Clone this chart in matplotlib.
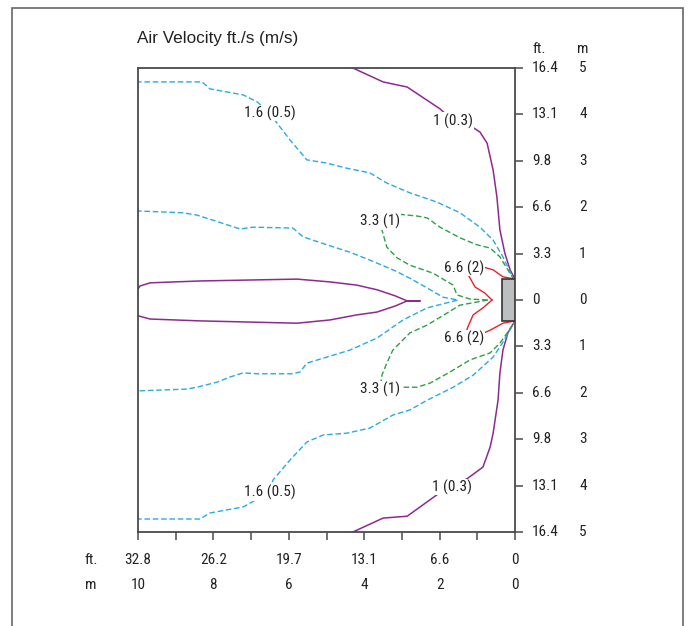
import numpy as np
import matplotlib.pyplot as plt
from matplotlib import font_manager as fm
from matplotlib.patches import Rectangle

# axis scales (distance from diffuser, m) and their ft labels
dist_m = [10, 8, 6, 4, 2, 0]
dist_ft = ['32.8', '26.2', '19.7', '13.1', '6.6', '0']
height_m = [5, 4, 3, 2, 1, 0, -1, -2, -3, -4, -5]
height_ft = ['16.4', '13.1', '9.8', '6.6', '3.3', '0', '3.3', '6.6', '9.8', '13.1', '16.4']
height_lbl = ['5', '4', '3', '2', '1', '0', '1', '2', '3', '4', '5']

# diffuser face (m)
nozzle_depth = 0.34
nozzle_half = 0.45

# 1 ft/s (0.3 m/s) isovel - outer, upper and lower
v03_up_x = [4.30, 3.50, 2.86, 1.99, 1.64, 1.25, 0.93, 0.74, 0.58, 0.48, 0.40, 0.27, 0.13, 0.0]
v03_up_y = [5.00, 4.70, 4.59, 4.12, 3.86, 3.79, 3.62, 3.38, 2.80, 2.22, 1.51, 1.01, 0.65, 0.45]
v03_lo_x = [4.30, 3.50, 2.86, 2.04, 1.67, 1.25, 0.85, 0.66, 0.58, 0.45, 0.40, 0.32, 0.19, 0.0]
v03_lo_y = [-5.00, -4.70, -4.66, -4.18, -4.03, -3.84, -3.60, -3.17, -2.87, -2.16, -1.57, -1.08, -0.71, -0.45]

# 1 ft/s lobe along the centre line (unlabelled)
lobe_x = [10.05, 9.95, 9.68, 8.36, 5.78, 4.91, 4.19, 3.66, 3.18, 2.86, 2.52,
          2.86, 3.18, 3.66, 4.19, 4.91, 5.78, 8.36, 9.68, 10.0, 10.05]
lobe_y = [0.17, 0.30, 0.37, 0.41, 0.45, 0.39, 0.32, 0.22, 0.09, -0.02, -0.02,
          -0.02, -0.13, -0.26, -0.32, -0.43, -0.50, -0.45, -0.41, -0.34, -0.25]

# 1.6 ft/s (0.5 m/s) isovel
v05_up_x = [10.05, 8.30, 8.09, 7.21, 6.84, 6.50, 6.31, 5.97, 5.52, 4.99, 4.46, 3.85, 3.40,
            2.79, 2.07, 1.46, 0.93, 0.58, 0.32, 0.05, 0.0]
v05_up_y = [4.70, 4.70, 4.55, 4.42, 4.27, 4.03, 3.81, 3.45, 3.02, 2.95, 2.84, 2.74, 2.52,
            2.31, 2.11, 1.88, 1.57, 1.29, 0.93, 0.47, 0.45]
v05_lo_x = [10.05, 8.36, 8.09, 7.21, 7.03, 6.50, 6.42, 5.97, 5.52, 5.09, 4.46, 3.85, 3.24,
            2.79, 2.33, 1.64, 1.11, 0.58, 0.32, 0.0]
v05_lo_y = [-4.72, -4.72, -4.59, -4.46, -4.38, -4.14, -3.88, -3.45, -3.06, -2.91, -2.87, -2.76, -2.48,
            -2.37, -2.16, -1.88, -1.62, -1.23, -0.91, -0.45]

# inner 0.5 m/s line closing on the centre line (unlabelled)
v05in_x = [10.05, 8.81, 8.44, 8.01, 7.29, 6.95, 5.89, 5.62, 4.99, 4.38, 3.85, 3.18, 2.79, 2.33, 1.91, 1.51,
           2.33, 2.97, 3.66, 4.38, 4.99, 5.52, 5.70, 5.89, 6.84, 7.21, 7.56, 7.90, 8.44, 8.70, 10.05]
v05in_y = [1.92, 1.88, 1.83, 1.72, 1.53, 1.57, 1.55, 1.36, 1.19, 1.03, 0.86, 0.63, 0.47, 0.26, 0.06, 0.0,
           -0.17, -0.43, -0.82, -1.08, -1.23, -1.36, -1.55, -1.59, -1.59, -1.57, -1.66, -1.77, -1.88, -1.92, -1.96]

# 3.3 ft/s (1 m/s) isovel
v1_up_x = [0.0, 0.05, 0.19, 0.40, 0.66, 1.01, 1.46, 1.99, 2.33, 2.60, 3.10, 3.58,
           3.53, 3.40, 3.13, 2.79, 2.18, 1.64, 1.54, 1.19, 0.72]
v1_up_y = [0.45, 0.47, 0.65, 0.93, 1.12, 1.19, 1.34, 1.57, 1.77, 1.81, 1.85, 1.70,
           1.51, 1.14, 0.91, 0.75, 0.58, 0.32, 0.11, 0.02, 0.0]
v1_lo_x = [0.72, 1.46, 1.80, 2.33, 2.79, 3.24, 3.40, 3.53, 3.58,
           3.05, 2.60, 2.25, 1.72, 1.19, 0.66, 0.40, 0.19, 0.0]
v1_lo_y = [0.0, -0.11, -0.28, -0.54, -0.71, -1.08, -1.36, -1.62, -1.92,
           -1.88, -1.88, -1.79, -1.55, -1.29, -1.14, -0.93, -0.69, -0.45]

# 6.6 ft/s (2 m/s) isovel
v2_up_x = [0.0, 0.32, 0.58, 0.93, 1.35, 1.19, 1.06, 0.80, 0.61]
v2_up_y = [0.45, 0.50, 0.65, 0.73, 0.69, 0.47, 0.28, 0.15, 0.0]
v2_lo_x = [0.61, 0.85, 1.11, 1.25, 1.35, 0.93, 0.66, 0.32, 0.0]
v2_lo_y = [0.0, -0.17, -0.32, -0.58, -0.82, -0.75, -0.65, -0.50, -0.45]

# contour labels
labels = ['1 (0.3)', '1 (0.3)', '1.6 (0.5)', '1.6 (0.5)', '3.3 (1)', '3.3 (1)', '6.6 (2)', '6.6 (2)']
label_x = [1.64, 1.67, 6.50, 6.50, 3.58, 3.58, 1.35, 1.35]
label_y = [3.86, -4.03, 4.03, -4.14, 1.70, -1.92, 0.69, -0.82]

purple = '#8d2a8f'
blue = '#2aaae2'
green = '#2f9f4a'
red = '#e8222a'
axcol = '#4a4a4a'
txtcol = '#222222'

# a narrow sans for the labels, whichever one is installed
fonts = fm.fontManager.ttflist
names = {f.name for f in fonts}
fs = 11
lab_kw = dict(family=['Liberation Sans', 'DejaVu Sans'], fontsize=fs)
for cand in ['Liberation Sans Narrow', 'Arial Narrow', 'Roboto Condensed', 'Open Sans Condensed']:
    if cand in names:
        lab_kw = dict(family=[cand, 'DejaVu Sans'], fontsize=fs)
        break
else:
    for fam in ['Roboto', 'Open Sans', 'Noto Sans', 'Liberation Sans', 'DejaVu Sans']:
        if any(f.name == fam and f.stretch == 'condensed' for f in fonts):
            lab_kw = dict(family=[fam], stretch='condensed', fontsize=fs)
            break

W, H = 688, 626
fig = plt.figure(figsize=(W / 100, H / 100), dpi=100)
ax = fig.add_axes([138 / W, 1 - 532 / H, 377 / W, 464 / H])
ax.set_xlim(10, 0)
ax.set_ylim(-5, 5)

# isovels
ax.plot(v03_up_x, v03_up_y, color=purple, lw=1.1)
ax.plot(v03_lo_x, v03_lo_y, color=purple, lw=1.1)
ax.plot(lobe_x, lobe_y, color=purple, lw=1.1)
for xs, ys in [(v05_up_x, v05_up_y), (v05_lo_x, v05_lo_y), (v05in_x, v05in_y)]:
    ax.plot(xs, ys, color=blue, lw=1.0, dashes=(4, 2))
for xs, ys in [(v1_up_x, v1_up_y), (v1_lo_x, v1_lo_y)]:
    ax.plot(xs, ys, color=green, lw=1.0, dashes=(4, 2))
ax.plot(v2_up_x, v2_up_y, color=red, lw=1.0)
ax.plot(v2_lo_x, v2_lo_y, color=red, lw=1.0)

for t, x, y in zip(labels, label_x, label_y):
    ax.text(x, y, t, ha='center', va='center', color=txtcol,
            bbox=dict(facecolor='white', edgecolor='none', pad=0.6), zorder=5, **lab_kw)

# diffuser
ax.add_patch(Rectangle((0, -nozzle_half), nozzle_depth, 2 * nozzle_half,
                       facecolor='#bdbec0', edgecolor='#333333', lw=1.2, zorder=6))

# frame and ticks
for s in ax.spines.values():
    s.set_color(axcol)
    s.set_linewidth(1.3)
ax.set_xticks(range(0, 11))
ax.set_xticklabels([])
ax.yaxis.tick_right()
ax.set_yticks(height_m)
ax.set_yticklabels([])
ax.tick_params(axis='x', direction='out', length=6, width=1.1, color=axcol)
ax.tick_params(axis='y', direction='out', length=6, width=1.1, color=axcol)

# tick labels: ft and m rows / columns
xt = ax.get_xaxis_transform()
for m, f in zip(dist_m, dist_ft):
    ax.text(m, -0.060, f, transform=xt, ha='center', va='center', color=txtcol, **lab_kw)
    ax.text(m, -0.114, str(m), transform=xt, ha='center', va='center', color=txtcol, **lab_kw)
ax.text(-0.141, -0.060, 'ft.', transform=ax.transAxes, ha='left', va='center', color=txtcol, **lab_kw)
ax.text(-0.141, -0.114, 'm', transform=ax.transAxes, ha='left', va='center', color=txtcol, **lab_kw)

yt = ax.get_yaxis_transform()
for h, f, l in zip(height_m, height_ft, height_lbl):
    ax.text(1.045, h, f, transform=yt, ha='left', va='center', color=txtcol, **lab_kw)
    ax.text(1.180, h, l, transform=yt, ha='center', va='center', color=txtcol, **lab_kw)
ax.text(1.045, 1.04, 'ft.', transform=ax.transAxes, ha='left', va='center', color=txtcol, **lab_kw)
ax.text(1.180, 1.04, 'm', transform=ax.transAxes, ha='center', va='center', color=txtcol, **lab_kw)

fig.text(137 / W, 1 - 38 / H, 'Air Velocity ft./s (m/s)', ha='left', va='center',
         fontsize=12.3, family=['Liberation Sans', 'DejaVu Sans'], color=txtcol)

# outer border of the figure panel
fig.add_artist(Rectangle((12 / W, -0.05), (683 - 12) / W, 1.05 - 8 / H, transform=fig.transFigure,
                         fill=False, edgecolor='#666666', lw=1.2))

fig.savefig('out.png', dpi=100)
